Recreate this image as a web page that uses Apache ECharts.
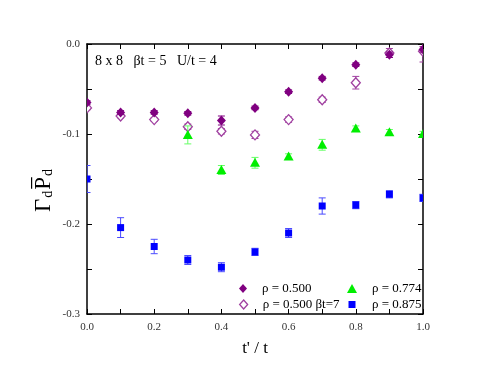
<!DOCTYPE html>
<html><head><meta charset="utf-8">
<script src="https://cdn.jsdelivr.net/npm/echarts@6/dist/echarts.min.js"></script>
<style>html,body{margin:0;padding:0;background:#fff}#c{width:491px;height:379px}</style>
</head><body><div id="c"></div>
<script>
const xVals = [0.0, 0.1, 0.2, 0.3, 0.4, 0.5, 0.6, 0.7, 0.8, 0.9, 1.0];
const rho500 = [-0.065, -0.076, -0.076, -0.077, -0.085, -0.071, -0.053, -0.038, -0.023, -0.012, -0.006];
const rho500Err = [0.002, 0.002, 0.002, 0.002, 0.005, 0.002, 0.002, 0.002, 0.002, 0.003, 0.003];
const rho500b7 = [-0.071, -0.080, -0.084, -0.092, -0.097, -0.101, -0.084, -0.062, -0.043, -0.010, -0.008];
const rho500b7Err = [0.002, 0.002, 0.002, 0.003, 0.003, 0.004, 0.003, 0.003, 0.007, 0.005, 0.012];
const x774 = [0.3, 0.4, 0.5, 0.6, 0.7, 0.8, 0.9, 1.0];
const rho774 = [-0.101, -0.140, -0.132, -0.125, -0.112, -0.094, -0.098, -0.100];
const rho774Err = [0.010, 0.005, 0.006, 0.003, 0.006, 0.003, 0.003, 0.003];
const rho875 = [-0.150, -0.204, -0.225, -0.240, -0.248, -0.231, -0.210, -0.180, -0.179, -0.167, -0.171];
const rho875Err = [0.015, 0.011, 0.008, 0.005, 0.005, 0.004, 0.005, 0.009, 0.004, 0.004, 0.004];
const xTicks = [0.0, 0.2, 0.4, 0.6, 0.8, 1.0];
const yTicks = [0.0, -0.1, -0.2, -0.3];

const FONT = '"Liberation Serif", "DejaVu Serif", serif';
const rows = (xs, ys, es) => xs.map((x, i) => [x, ys[i], es[i]]);

function markerShape(kind, cx, cy) {
  if (kind === 'diamond') {
    return { type: 'polygon', shape: { points: [[cx, cy - 5], [cx + 4.5, cy], [cx, cy + 5], [cx - 4.5, cy]] } };
  }
  if (kind === 'triangle') {
    return { type: 'polygon', shape: { points: [[cx, cy - 5], [cx + 5, cy + 4], [cx - 5, cy + 4]] } };
  }
  return { type: 'rect', shape: { x: cx - 3.5, y: cy - 3.5, width: 7, height: 7 } };
}

function dataSeries(name, data, kind, fill, stroke, barColor) {
  return {
    name: name, type: 'custom', clip: true, z: 3,
    itemStyle: { color: fill, borderColor: stroke, borderWidth: fill === '#fff' ? 1.3 : 0 },
    data: data,
    encode: { x: 0, y: 1 },
    renderItem: function (params, api) {
      const x = api.value(0), y = api.value(1), e = api.value(2);
      const c = api.coord([x, y]);
      const lo = api.coord([x, y - e]);
      const hi = api.coord([x, y + e]);
      const w = 3.5;
      const bs = { stroke: barColor, lineWidth: 1, fill: null };
      const m = markerShape(kind, c[0], c[1]);
      m.style = fill === '#fff' ? { fill: '#fff', stroke: stroke, lineWidth: 1.3 } : { fill: fill };
      return { type: 'group', children: [
        { type: 'line', shape: { x1: lo[0], y1: lo[1], x2: hi[0], y2: hi[1] }, style: bs },
        { type: 'line', shape: { x1: lo[0] - w, y1: lo[1], x2: lo[0] + w, y2: lo[1] }, style: bs },
        { type: 'line', shape: { x1: hi[0] - w, y1: hi[1], x2: hi[0] + w, y2: hi[1] }, style: bs },
        m
      ]};
    }
  };
}

const axisCommon = {
  axisLine: { show: true, onZero: false, lineStyle: { color: '#000', width: 1.5 } },
  axisTick: { show: true, inside: true, length: 5, lineStyle: { color: '#000', width: 1 } },
  splitLine: { show: false }
};

const legendText = { fontFamily: FONT, fontSize: 13, color: '#000' };
function oneLegend(name, left, top, w, h, icon, itemStyle, pad) {
  return { orient: 'vertical', left: left, top: top, padding: 0, itemWidth: w, itemHeight: h,
    textStyle: Object.assign({ padding: [0, 0, 0, pad] }, legendText),
    data: [{ name: name, icon: icon, itemStyle: itemStyle }] };
}

const chart = echarts.init(document.getElementById('c'));
chart.setOption({
  animation: false,
  backgroundColor: '#fff',
  grid: { left: 87, right: 68, top: 44, bottom: 65 },
  xAxis: [
    Object.assign({}, axisCommon, {
      type: 'value', min: 0, max: 1, interval: 0.1, position: 'bottom',
      axisLabel: { fontFamily: FONT, fontSize: 11, color: '#333', margin: 8, showMinLabel: true, showMaxLabel: true,
        formatter: v => xTicks.some(t => Math.abs(t - v) < 1e-9) ? v.toFixed(1) : '' },
      name: "t' / t", nameLocation: 'middle', nameGap: 26,
      nameTextStyle: { fontFamily: FONT, fontSize: 17, color: '#000' }
    }),
    Object.assign({}, axisCommon, {
      type: 'value', min: 0, max: 1, interval: 0.1, position: 'top', axisLabel: { show: false }
    })
  ],
  yAxis: [
    Object.assign({}, axisCommon, {
      type: 'value', min: -0.3, max: 0, interval: 0.05, position: 'left',
      axisLabel: { fontFamily: FONT, fontSize: 11, color: '#333', margin: 7, showMinLabel: true, showMaxLabel: true,
        formatter: v => yTicks.some(t => Math.abs(t - v) < 1e-9) ? (Math.abs(v) < 1e-9 ? '0.0' : v.toFixed(1)) : '' }
    }),
    Object.assign({}, axisCommon, {
      type: 'value', min: -0.3, max: 0, interval: 0.05, position: 'right', axisLabel: { show: false }
    })
  ],
  legend: [
    oneLegend('ρ = 0.500', 239, 282, 8, 9, 'diamond', { color: '#800080', borderWidth: 0 }, 10),
    oneLegend('ρ = 0.500 βt=7', 239, 298, 8, 9, 'diamond', { color: '#fff', borderColor: '#a040a0', borderWidth: 1.3 }, 10),
    oneLegend('ρ = 0.774', 347, 282, 10, 9, 'triangle', { color: '#00ee00', borderWidth: 0 }, 10),
    oneLegend('ρ = 0.875', 348.5, 298, 7, 7, 'rect', { color: '#0000ff', borderWidth: 0 }, 11.5)
  ],
  graphic: [
    { type: 'text', left: 95, top: 54,
      style: { text: '8 x 8   βt = 5   U/t = 4', font: '14px ' + FONT, fill: '#000' } },
    { type: 'text', x: 42, y: 190, rotation: Math.PI / 2,
      style: { text: '{b|Γ}{s|d}{b|P̅}{s|d}', align: 'center', verticalAlign: 'middle',
        rich: { b: { fontFamily: FONT, fontSize: 23, fill: '#000', verticalAlign: 'bottom' },
                s: { fontFamily: FONT, fontSize: 14, fill: '#000', verticalAlign: 'bottom', padding: [12, 1, 0, 1] } } } }
  ],
  series: [
    dataSeries('ρ = 0.500 βt=7', rows(xVals, rho500b7, rho500b7Err), 'diamond', '#fff', '#a040a0', '#a040a0'),
    dataSeries('ρ = 0.500', rows(xVals, rho500, rho500Err), 'diamond', '#800080', '#800080', '#800080'),
    dataSeries('ρ = 0.774', rows(x774, rho774, rho774Err), 'triangle', '#00ee00', '#00ee00', '#66ff66'),
    dataSeries('ρ = 0.875', rows(xVals, rho875, rho875Err), 'rect', '#0000ff', '#0000ff', '#4a4aff')
  ]
});
</script></body></html>
